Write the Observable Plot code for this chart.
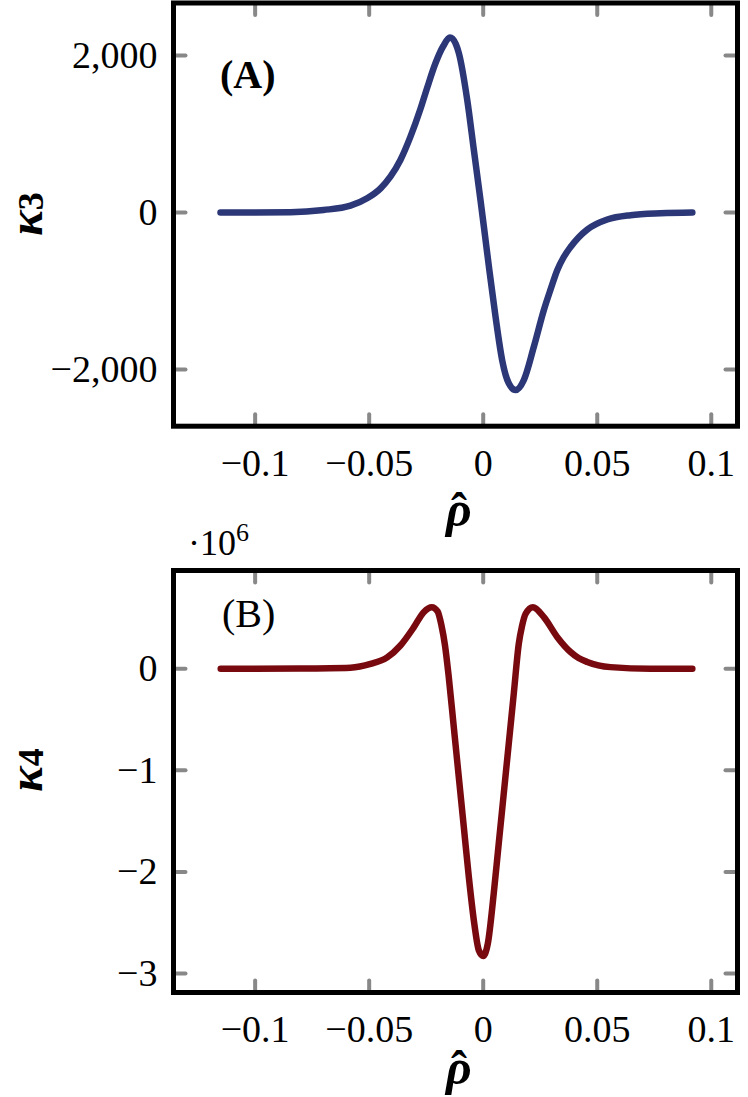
<!DOCTYPE html>
<html><head><meta charset="utf-8">
<script src="https://cdn.jsdelivr.net/npm/d3@7"></script>
<script src="https://cdn.jsdelivr.net/npm/@observablehq/plot@0.6"></script>
<style>
body{margin:0;background:#fff;}
#fig{position:relative;width:748px;height:1097px;overflow:hidden;}
#fig svg{display:block;}
</style></head><body><div id="fig"></div>
<script>
// Panel (A): third cumulant
const rhoA = [-0.1152, -0.100, -0.0845, -0.0700, -0.0582, -0.0509, -0.0450, -0.0407, -0.0363, -0.0319, -0.0275, -0.0246, -0.0209, -0.0175, -0.0146, -0.0120, -0.0107, -0.0070, -0.0041, -0.0012, 0.0003, 0.0025, 0.0054, 0.0083, 0.0112, 0.0142, 0.0178, 0.0222, 0.0266, 0.0296, 0.0325, 0.0352, 0.0383, 0.0418, 0.0456, 0.0497, 0.0544, 0.0646, 0.0778, 0.0917];
const kappa3 = [0, 0, 3, 32, 87, 181, 308, 456, 669, 966, 1322, 1587, 1904, 2121, 2229, 2146, 2032, 1433, 796, 159, -181, -690, -1327, -1879, -2176, -2261, -2134, -1710, -1242, -975, -732, -573, -439, -318, -217, -146, -89, -34, -10, 0];
// Panel (B): fourth cumulant (x 10^6)
const rhoB = [-0.1151, -0.1021, -0.0800, -0.0582, -0.0494, -0.0421, -0.0363, -0.0304, -0.0261, -0.0225, -0.0200, -0.0183, -0.01675, -0.0151, -0.0129, -0.0107, -0.0085, -0.0063, -0.0041, -0.0019, 0, 0.0020, 0.0046, 0.0068, 0.0090, 0.0112, 0.0134, 0.0156, 0.0170, 0.0186, 0.0218, 0.0266, 0.0325, 0.0383, 0.0418, 0.0456, 0.0558, 0.0734, 0.0917];
const kappa4 = [0, 0, 0.002, 0.010, 0.047, 0.112, 0.229, 0.409, 0.557, 0.606, 0.565, 0.426, 0.229, -0.083, -0.575, -1.067, -1.559, -2.051, -2.477, -2.773, -2.827, -2.707, -2.215, -1.722, -1.230, -0.738, -0.246, 0.246, 0.418, 0.541, 0.606, 0.508, 0.311, 0.165, 0.106, 0.067, 0.016, 0, 0];

const xTicks = [-0.1, -0.05, 0, 0.05, 0.1];
const xTickLabels = ["−0.1", "−0.05", "0", "0.05", "0.1"];
const yTicksA = [-2000, 0, 2000];
const yTickLabelsA = ["−2,000", "0", "2,000"];
const yTicksB = [-3, -2, -1, 0];
const yTickLabelsB = ["−3", "−2", "−1", "0"];
const xDomain = [-0.1358, 0.1115];
const yDomainA = [-2722, 2669];
const yDomainB = [-3.186, 0.967];

const serif = "'Liberation Serif', 'Times New Roman', serif";
const tickShape = {draw(ctx, l) { ctx.moveTo(0, 0); ctx.lineTo(0, -l); }};
const fmt = (ticks, labels) => v => { const i = ticks.findIndex(t => Math.abs(t - v) < 1e-9); return i < 0 ? "" : labels[i]; };

function panel({xs, ys, color, yDomain, yTicks, yLabels, height, marginTop, marginBottom}) {
  const data = xs.map((x, i) => ({x, y: ys[i]}));
  const tickOpts = {length: 12, anchor: "start", shape: tickShape, stroke: "#888", strokeWidth: 4};
  const textOpts = {fontFamily: serif, fontSize: 38, fill: "#000"};
  return Plot.plot({
    width: 748, height, marginTop, marginBottom, marginLeft: 173, marginRight: 11,
    style: {fontFamily: serif, fontSize: "38px", color: "#000", background: "#fff", overflow: "visible"},
    x: {domain: xDomain},
    y: {domain: yDomain},
    marks: [
      Plot.vector(xTicks, {x: d => d, frameAnchor: "bottom", rotate: 0, ...tickOpts}),
      Plot.vector(xTicks, {x: d => d, frameAnchor: "top", rotate: 180, ...tickOpts}),
      Plot.vector(yTicks, {y: d => d, frameAnchor: "left", rotate: 90, ...tickOpts}),
      Plot.vector(yTicks, {y: d => d, frameAnchor: "right", rotate: -90, ...tickOpts}),
      Plot.line(data, {x: "x", y: "y", stroke: color, strokeWidth: 6.5, curve: "monotone-x"}),
      Plot.axisX({anchor: "bottom", ticks: xTicks, tickSize: 0, tickPadding: 23, tickFormat: fmt(xTicks, xTickLabels), label: null, ...textOpts}),
      Plot.axisY({anchor: "left", ticks: yTicks, tickSize: 0, tickPadding: 16, tickFormat: fmt(yTicks, yLabels), label: null, ...textOpts}),
      Plot.frame({stroke: "#000", strokeWidth: 5})
    ]
  });
}

function addText(svg, {x, y, text, size, weight = "normal", style = "normal", anchor = "start"}) {
  return d3.select(svg).append("text").attr("x", x).attr("y", y)
    .attr("font-family", serif).attr("font-size", size).attr("font-weight", weight)
    .attr("font-style", style).attr("text-anchor", anchor).attr("fill", "#000").text(text);
}
function addKappa(svg, x, y, sub) {
  const t = d3.select(svg).append("text").attr("transform", `translate(${x},${y}) rotate(-90)`)
    .attr("text-anchor", "middle").attr("font-family", serif).attr("font-weight", "bold").attr("fill", "#000");
  t.append("tspan").attr("font-style", "italic").attr("font-size", 48).text("κ");
  t.append("tspan").attr("font-size", 36).attr("dy", 1).text(sub);
}
const mctx = document.createElement("canvas").getContext("2d");
function ink(font, s) {
  mctx.font = font;
  const m = mctx.measureText(s);
  return {L: m.actualBoundingBoxLeft, R: m.actualBoundingBoxRight, A: m.actualBoundingBoxAscent, D: m.actualBoundingBoxDescent};
}
// ρ with a hat above, as one text element: centre x, top of ρ ink, centre of the hat ink
function addRho(svg, cx, inkTop, hatCx, hatCy) {
  const r = ink("italic bold 50px 'Liberation Serif'", "ρ");
  const h = ink("bold 48px 'Liberation Serif'", "ˆ");
  const t = d3.select(svg).append("text").attr("text-anchor", "start").attr("font-family", serif)
    .attr("font-weight", "bold").attr("fill", "#000");
  t.append("tspan").attr("x", cx - (r.R - r.L) / 2).attr("y", inkTop + r.A)
    .attr("font-size", 50).attr("font-style", "italic").text("ρ");
  t.append("tspan").attr("x", hatCx - (h.R - h.L) / 2).attr("y", hatCy + (h.A - h.D) / 2)
    .attr("font-size", 48).attr("font-style", "normal").text("ˆ");
}

const fig = document.getElementById("fig");

const svgA = panel({xs: rhoA, ys: kappa3, color: "#2b3776", yDomain: yDomainA, yTicks: yTicksA, yLabels: yTickLabelsA, height: 530, marginTop: 2.5, marginBottom: 104.3});
addText(svgA, {x: 220, y: 88, text: "(A)", size: 40, weight: "bold"});
addKappa(svgA, 42, 214, "3");
addRho(svgA, 457.5, 502, 459, 496);
fig.appendChild(svgA);

const svgB = panel({xs: rhoB, ys: kappa4, color: "#780a0f", yDomain: yDomainB, yTicks: yTicksB, yLabels: yTickLabelsB, height: 567, marginTop: 40, marginBottom: 105});
addText(svgB, {x: 222, y: 97, text: "(B)", size: 40});
const t6 = d3.select(svgB).append("text").attr("x", 188).attr("y", 25).attr("text-anchor", "start")
  .attr("font-family", serif).attr("font-size", 36).attr("fill", "#000");
t6.append("tspan").text("·10");
t6.append("tspan").attr("font-size", 26).attr("dy", -14).text("6");
addKappa(svgB, 42, 240, "4");
addRho(svgB, 457.5, 530, 459, 524);
fig.appendChild(svgB);
</script>
</body></html>
